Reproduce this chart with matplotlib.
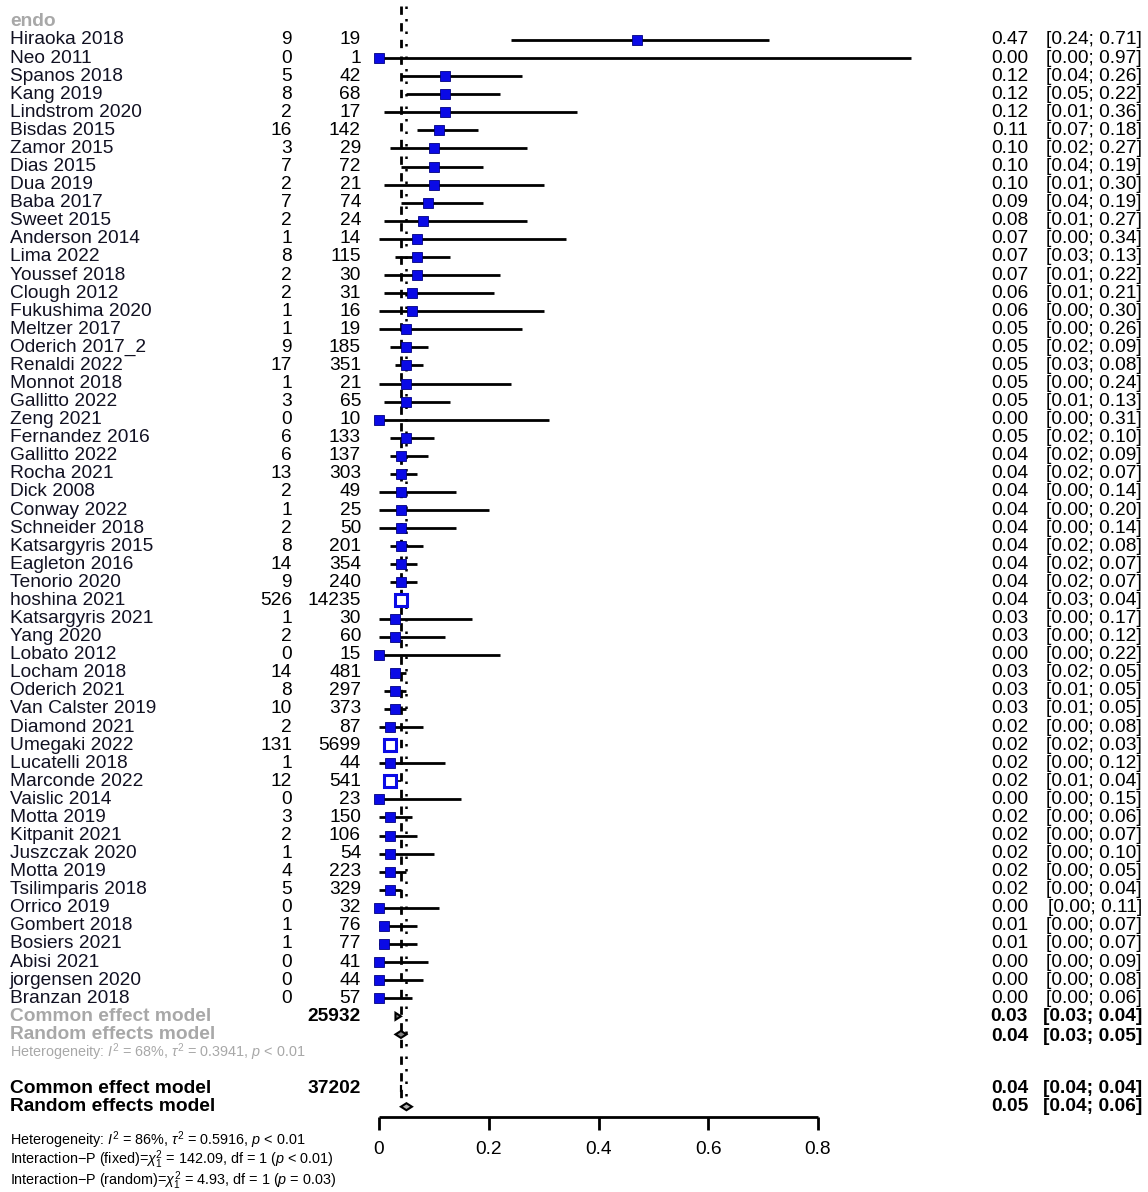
import numpy as np
import matplotlib
matplotlib.use("Agg")
import matplotlib.pyplot as plt

plt.rcParams['font.family'] = ['Liberation Sans', 'DejaVu Sans']
plt.rcParams['mathtext.fontset'] = 'custom'
plt.rcParams['mathtext.rm'] = 'Liberation Sans'
plt.rcParams['mathtext.it'] = 'Liberation Sans:italic'

# dane z wykresu (podgrupa "endo")
studies = ["Hiraoka 2018", "Neo 2011", "Spanos 2018", "Kang 2019", "Lindstrom 2020",
           "Bisdas 2015", "Zamor 2015", "Dias 2015", "Dua 2019", "Baba 2017",
           "Sweet 2015", "Anderson 2014", "Lima 2022", "Youssef 2018", "Clough 2012",
           "Fukushima 2020", "Meltzer 2017", "Oderich 2017_2", "Renaldi 2022", "Monnot 2018",
           "Gallitto 2022", "Zeng 2021", "Fernandez 2016", "Gallitto 2022", "Rocha 2021",
           "Dick 2008", "Conway 2022", "Schneider 2018", "Katsargyris 2015", "Eagleton 2016",
           "Tenorio 2020", "hoshina 2021", "Katsargyris 2021", "Yang 2020", "Lobato 2012",
           "Locham 2018", "Oderich 2021", "Van Calster 2019", "Diamond 2021", "Umegaki 2022",
           "Lucatelli 2018", "Marconde 2022", "Vaislic 2014", "Motta 2019", "Kitpanit 2021",
           "Juszczak 2020", "Motta 2019", "Tsilimparis 2018", "Orrico 2019", "Gombert 2018",
           "Bosiers 2021", "Abisi 2021", "jorgensen 2020", "Branzan 2018"]
events = [9, 0, 5, 8, 2, 16, 3, 7, 2, 7, 2, 1, 8, 2, 2, 1, 1, 9, 17, 1, 3, 0, 6, 6, 13,
          2, 1, 2, 8, 14, 9, 526, 1, 2, 0, 14, 8, 10, 2, 131, 1, 12, 0, 3, 2, 1, 4, 5, 0,
          1, 1, 0, 0, 0]
totals = [19, 1, 42, 68, 17, 142, 29, 72, 21, 74, 24, 14, 115, 30, 31, 16, 19, 185, 351,
          21, 65, 10, 133, 137, 303, 49, 25, 50, 201, 354, 240, 14235, 30, 60, 15, 481,
          297, 373, 87, 5699, 44, 541, 23, 150, 106, 54, 223, 329, 32, 76, 77, 41, 44, 57]
est = [0.47, 0.00, 0.12, 0.12, 0.12, 0.11, 0.10, 0.10, 0.10, 0.09, 0.08, 0.07, 0.07, 0.07,
       0.06, 0.06, 0.05, 0.05, 0.05, 0.05, 0.05, 0.00, 0.05, 0.04, 0.04, 0.04, 0.04, 0.04,
       0.04, 0.04, 0.04, 0.04, 0.03, 0.03, 0.00, 0.03, 0.03, 0.03, 0.02, 0.02, 0.02, 0.02,
       0.00, 0.02, 0.02, 0.02, 0.02, 0.02, 0.00, 0.01, 0.01, 0.00, 0.00, 0.00]
lower = [0.24, 0.00, 0.04, 0.05, 0.01, 0.07, 0.02, 0.04, 0.01, 0.04, 0.01, 0.00, 0.03, 0.01,
         0.01, 0.00, 0.00, 0.02, 0.03, 0.00, 0.01, 0.00, 0.02, 0.02, 0.02, 0.00, 0.00, 0.00,
         0.02, 0.02, 0.02, 0.03, 0.00, 0.00, 0.00, 0.02, 0.01, 0.01, 0.00, 0.02, 0.00, 0.01,
         0.00, 0.00, 0.00, 0.00, 0.00, 0.00, 0.00, 0.00, 0.00, 0.00, 0.00, 0.00]
upper = [0.71, 0.97, 0.26, 0.22, 0.36, 0.18, 0.27, 0.19, 0.30, 0.19, 0.27, 0.34, 0.13, 0.22,
         0.21, 0.30, 0.26, 0.09, 0.08, 0.24, 0.13, 0.31, 0.10, 0.09, 0.07, 0.14, 0.20, 0.14,
         0.08, 0.07, 0.07, 0.04, 0.17, 0.12, 0.22, 0.05, 0.05, 0.05, 0.08, 0.03, 0.12, 0.04,
         0.15, 0.06, 0.07, 0.10, 0.05, 0.04, 0.11, 0.07, 0.07, 0.09, 0.08, 0.06]

# modele: podgrupa i calosc (est, lower, upper)
sub_common = [0.03, 0.03, 0.04]
sub_random = [0.04, 0.03, 0.05]
all_common = [0.04, 0.04, 0.04]
all_random = [0.05, 0.04, 0.06]
sub_total = 25932
all_total = 37202
ticks = [0, 0.2, 0.4, 0.6, 0.8]

W, H = 1148, 1192
X0, X1 = 379, 818          # piksele dla 0 i 0.8
scale = 0.8 / (X1 - X0)

def px(x):
    return (x - X0) * scale

def rowy(i):
    return 40 + i * 18.08

fig = plt.figure(figsize=(W / 100, H / 100), dpi=100)
ax = fig.add_axes([0, 0, 1, 1])
ax.set_xlim(px(0), px(W))
ax.set_ylim(H, 0)
ax.axis('off')

fs = 13.8
fs_small = 10.4
grey = '#A8A8A8'
blue = '#0A0AE6'

# linie odniesienia (common / random)
ax.vlines(all_common[0], 6, rowy(59) - 4, colors='black', linestyles=(0, (3, 3)), lw=2)
ax.vlines(all_random[0], 6, rowy(59) - 4, colors='black', linestyles=(0, (1, 4)), lw=1.8)

ax.text(px(10), rowy(-1), "endo", color=grey, fontsize=fs, fontweight='bold', va='center')

for i in range(len(studies)):
    y = rowy(i)
    ax.text(px(10), y, studies[i], fontsize=fs, va='center', color='#111122')
    ax.text(px(292), y, str(events[i]), fontsize=fs, va='center', ha='right')
    ax.text(px(361), y, str(totals[i]), fontsize=fs, va='center', ha='right')
    ax.text(px(1028), y, "%.2f" % est[i], fontsize=fs, va='center', ha='right')
    ax.text(px(1142), y, "[%.2f; %.2f]" % (lower[i], upper[i]), fontsize=fs, va='center', ha='right')
    big = totals[i] > 500
    if big:
        ax.plot([est[i]], [y], marker='s', ms=8, mfc='white', mec=blue, mew=2.2, zorder=4)
        ax.hlines(y, lower[i], upper[i], colors='black', lw=1.2, zorder=3)
    else:
        ax.hlines(y, lower[i], upper[i], colors='black', lw=2, zorder=3)
        ax.plot([est[i]], [y], marker='s', ms=7.5, color=blue, mec='#000080', mew=0.6, zorder=4)

def diamond(m, y, fc):
    e, lo, hi = m
    ax.fill([lo, e, hi, e], [y, y - 3.5, y, y + 3.5], facecolor=fc, edgecolor='black', lw=1.5, zorder=5)

# podgrupa
n = len(studies)
ax.text(px(10), rowy(n), "Common effect model", color=grey, fontsize=fs, fontweight='bold', va='center')
ax.text(px(10), rowy(n + 1), "Random effects model", color=grey, fontsize=fs, fontweight='bold', va='center')
ax.text(px(361), rowy(n), str(sub_total), fontsize=fs, fontweight='bold', va='center', ha='right')
ax.text(px(10), rowy(n + 2), r"Heterogeneity: $I^2$ = 68%, $\tau^2$ = 0.3941, $p$ < 0.01",
        color=grey, fontsize=fs_small, va='center')
for k, m in enumerate([sub_common, sub_random]):
    y = rowy(n + k)
    diamond(m, y, '#808080')
    ax.text(px(1028), y + 2 * k, "%.2f" % m[0], fontsize=fs, va='center', ha='right', fontweight='bold')
    ax.text(px(1142), y + 2 * k, "[%.2f; %.2f]" % (m[1], m[2]), fontsize=fs, va='center',
            ha='right', fontweight='bold')

# calosc
ax.text(px(10), rowy(n + 4), "Common effect model", fontsize=fs, fontweight='bold', va='center')
ax.text(px(10), rowy(n + 5), "Random effects model", fontsize=fs, fontweight='bold', va='center')
ax.text(px(361), rowy(n + 4), str(all_total), fontsize=fs, fontweight='bold', va='center', ha='right')
for k, m in enumerate([all_common, all_random]):
    y = rowy(n + 4 + k)
    diamond(m, y, '#B0B0B0')
    ax.text(px(1028), y, "%.2f" % m[0], fontsize=fs, va='center', ha='right', fontweight='bold')
    ax.text(px(1142), y, "[%.2f; %.2f]" % (m[1], m[2]), fontsize=fs, va='center',
            ha='right', fontweight='bold')

# os x
ya = 1117
ax.hlines(ya, ticks[0], ticks[-1], colors='black', lw=2)
ax.vlines(ticks, ya, ya + 13, colors='black', lw=2)
for t in ticks:
    ax.text(t, 1150, "%g" % t, fontsize=fs, ha='center', va='center')

ax.text(px(10), 1140, r"Heterogeneity: $I^2$ = 86%, $\tau^2$ = 0.5916, $p$ < 0.01",
        fontsize=fs_small, va='center')
ax.text(px(10), 1160, r"Interaction$-$P (fixed)=$\chi^2_1$ = 142.09, df = 1 ($p$ < 0.01)",
        fontsize=fs_small, va='center')
ax.text(px(10), 1181, r"Interaction$-$P (random)=$\chi^2_1$ = 4.93, df = 1 ($p$ = 0.03)",
        fontsize=fs_small, va='center')

fig.savefig("out.png", dpi=100)
